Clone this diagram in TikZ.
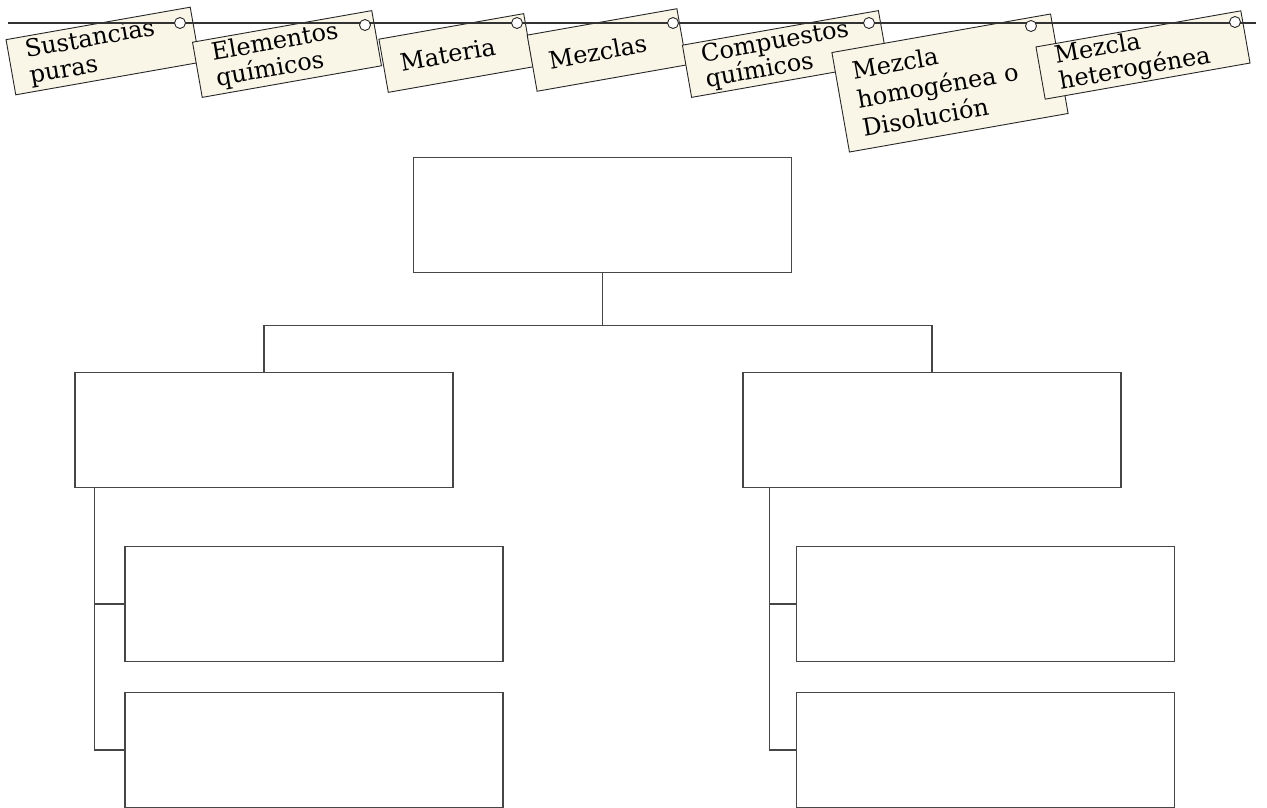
\documentclass[tikz,border=0pt]{standalone}
\usepackage{fontspec}
\newfontfamily\etiqfont{DejaVu Serif}
\definecolor{papel}{RGB}{249,246,232}
\definecolor{trazo}{RGB}{70,70,70}
\begin{document}
\begin{tikzpicture}[x=1pt,y=-1pt,
    caja/.style={draw=trazo,line width=1.1pt,minimum width=378pt,minimum height=115pt,inner sep=0pt},
    linea/.style={draw=trazo,line width=1.1pt},
    etiqueta/.style={draw=black!85,fill=papel,line width=0.9pt,rotate=10,align=left,inner xsep=17pt,inner ysep=1pt,font=\etiqfont\fontsize{24}{26}\selectfont},
    agujero/.style={circle,draw=black!85,fill=white,line width=0.9pt,minimum size=11pt,inner sep=0pt},
    cuerda/.style={line width=2.6pt,black!80}]
\useasboundingbox (0,0) rectangle (1267,808);
\node[etiqueta,text width=153pt,minimum height=56pt] (sustancias) at (103,51) {Sustancias\\puras};
\node[etiqueta,text width=148pt,minimum height=56pt] (elementos) at (287,54) {Elementos\\químicos};
\node[etiqueta,text width=113pt,minimum height=54pt] (materia) at (456,53) {Materia};
\node[etiqueta,text width=118pt,minimum height=57pt] (mezclas) at (607,50) {Mezclas};
\node[etiqueta,text width=165pt,minimum height=53pt,font=\etiqfont\fontsize{24}{23}\selectfont] (compuestos) at (785,54) {Compuestos\\químicos};
\node[etiqueta,text width=188pt,minimum height=101pt,font=\etiqfont\fontsize{24}{29}\selectfont] (homogenea) at (950,83) {Mezcla\\homogénea o\\Disolución};
\node[etiqueta,text width=174pt,minimum height=53pt] (heterogenea) at (1143,55) {Mezcla\\heterogénea};
\coordinate (c0) at (8,23);
\coordinate (c1) at (1256,23);
\draw[cuerda] (c0) -- (c1);
\node[agujero] (h1) at (180,23) {};
\node[agujero] (h2) at (365,25) {};
\node[agujero] (h3) at (517,23) {};
\node[agujero] (h4) at (673,23) {};
\node[agujero] (h5) at (869,23) {};
\node[agujero] (h6) at (1031,26) {};
\node[agujero] (h7) at (1235,22) {};
\node[caja] (sup) at (602.5,215) {};
\node[caja] (izq) at (264,430) {};
\node[caja] (der) at (932,430) {};
\node[caja] (izq1) at (314,604) {};
\node[caja] (izq2) at (314,750) {};
\node[caja] (der1) at (985.5,604) {};
\node[caja] (der2) at (985.5,750) {};
\draw[linea] (sup.south) -- ++(0,52) coordinate (rama) -| (izq.north);
\draw[linea] (rama) -| (der.north);
\draw[linea] ([xshift=20pt]izq.south west) |- (izq1.west);
\draw[linea] ([xshift=20pt]izq.south west) |- (izq2.west);
\draw[linea] ([xshift=27pt]der.south west) |- (der1.west);
\draw[linea] ([xshift=27pt]der.south west) |- (der2.west);
\end{tikzpicture}
\end{document}
